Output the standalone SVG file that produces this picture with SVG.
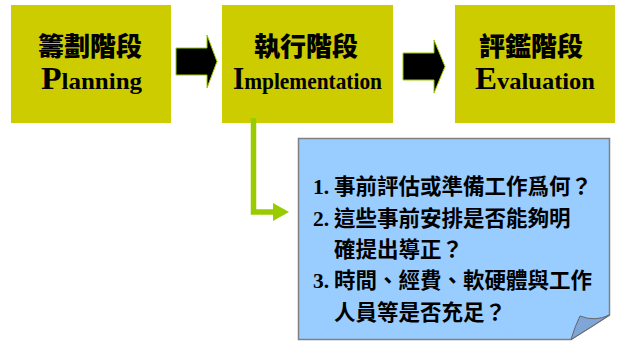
<svg xmlns="http://www.w3.org/2000/svg" width="619" height="342" viewBox="0 0 619 342">
<style>
.box{fill:#CCCC00;}
.zh{font-family:"Noto Sans CJK TC","Noto Sans CJK SC",sans-serif;font-weight:900;font-size:26px;fill:#000;text-anchor:middle;}
.en{font-family:"Liberation Serif",serif;font-weight:bold;font-size:23px;fill:#000;text-anchor:middle;}
.cap{font-size:31px;}
.blk{fill:#000;stroke:#99CC00;stroke-width:1;}
.note{font-family:"Liberation Serif","Noto Sans CJK TC",serif;font-weight:bold;font-size:21.5px;fill:#000;}
.nzh{font-family:"Noto Sans CJK TC","Noto Sans CJK SC",sans-serif;}
</style>
<rect width="619" height="342" fill="#fff"/>
<g id="planning">
<rect class="box" x="11" y="5" width="160" height="118"/>
<text class="zh" x="90" y="56">籌劃階段</text>
<text class="en" x="91.5" y="89" textLength="101" lengthAdjust="spacingAndGlyphs"><tspan class="cap">P</tspan>lanning</text>
</g>
<g id="implementation">
<rect class="box" x="222" y="5" width="171" height="118"/>
<text class="zh" x="306" y="56">執行階段</text>
<text class="en" x="307.5" y="89" textLength="149" lengthAdjust="spacingAndGlyphs"><tspan class="cap">I</tspan>mplementation</text>
</g>
<g id="evaluation">
<rect class="box" x="455" y="5" width="160" height="118"/>
<text class="zh" x="531" y="56">評鑑階段</text>
<text class="en" x="535" y="89" textLength="120" lengthAdjust="spacingAndGlyphs"><tspan class="cap">E</tspan>valuation</text>
</g>
<g id="note">
<path d="M298.5,138.5 H609.5 V315 L571,339.5 H298.5 Z" fill="#99CCFF" stroke="#808080" stroke-width="1.5"/>
<path d="M571,339.5 Q575,326 580,316 Q595,322 609.5,315 Q590,328 571,339.5 Z" fill="#7FA6D6" stroke="#666" stroke-width="1"/>
<text class="note" x="313" y="194">1. <tspan class="nzh" x="334">事前評估或準備工作爲何？</tspan></text>
<text class="note" x="313" y="226">2. <tspan class="nzh" x="334">這些事前安排是否能夠明</tspan></text>
<text class="note nzh" x="334" y="257">確提出導正？</text>
<text class="note" x="313" y="288">3. <tspan class="nzh" x="334">時間、經費、軟硬體與工作</tspan></text>
<text class="note nzh" x="334" y="320">人員等是否充足？</text>
</g>
<g id="connectors">
<path class="blk" d="M176,48 H207 V35 L217,61.5 L207,88 V75 H176 Z"/>
<path class="blk" d="M403,53 H434 V40 L445,66.5 L434,93 V80 H403 Z"/>
<path d="M253.5,118 V212 H274" fill="none" stroke="#99CC00" stroke-width="5.5"/>
<path d="M273,203 L289,212 L273,221 Z" fill="#99CC00"/>
</g>
</svg>
